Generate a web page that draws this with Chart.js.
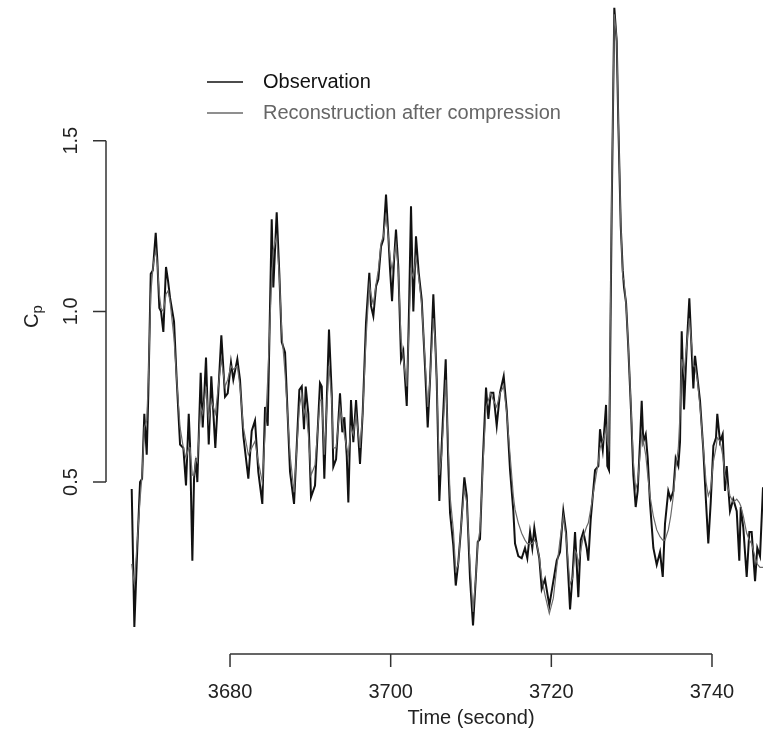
<!DOCTYPE html>
<html>
<head>
<meta charset="utf-8">
<script src="https://cdn.jsdelivr.net/npm/chart.js@4/dist/chart.umd.min.js"></script>
<style>
html,body{margin:0;padding:0;background:#fff;}
#c{display:block;}
</style>
</head>
<body>
<canvas id="c" width="763" height="739"></canvas>
<script>
// time stamps (seconds)
const times = [
3667.76,3668.09,3668.46,3668.80,3669.05,3669.33,3669.63,3669.83,3670.13,3670.38,
3670.46,3670.75,3670.95,3671.20,3671.41,3671.70,3672.03,3672.28,3672.53,3673.03,
3673.36,3673.78,3674.19,3674.52,3674.86,3675.02,3675.31,3675.52,3675.77,3675.93,
3676.35,3676.60,3677.01,3677.35,3677.67,3678.17,3678.92,3679.38,3679.71,3680.12,
3680.41,3680.91,3681.24,3681.66,3682.28,3682.70,3683.11,3683.52,3684.02,3684.36,
3684.69,3685.19,3685.39,3685.81,3686.14,3686.44,3686.85,3687.47,3687.97,3688.63,
3688.93,3689.21,3689.42,3689.75,3690.08,3690.58,3691.20,3691.42,3691.74,3692.32,
3692.66,3692.86,3693.20,3693.69,3693.98,3694.23,3694.53,3694.73,3695.06,3695.35,
3695.69,3696.18,3696.52,3696.93,3697.34,3697.55,3697.84,3698.18,3698.46,3698.80,
3699.08,3699.42,3699.71,3699.92,3700.17,3700.42,3700.66,3700.95,3701.29,3701.57,
3702.00,3702.28,3702.53,3702.82,3703.15,3703.49,3703.86,3704.27,3704.61,3704.90,
3705.31,3705.52,3705.73,3706.06,3706.35,3706.85,3707.18,3707.39,3707.80,3708.10,
3708.42,3708.72,3709.17,3709.47,3709.88,3710.25,3710.59,3710.84,3711.12,3711.46,
3711.87,3712.16,3712.45,3712.78,3713.20,3713.61,3714.07,3714.45,3714.86,3715.27,
3715.48,3715.89,3716.31,3716.72,3717.01,3717.35,3717.63,3717.88,3718.18,3718.50,
3718.80,3719.21,3719.75,3720.25,3720.67,3721.08,3721.49,3721.83,3722.33,3722.66,
3722.95,3723.16,3723.36,3723.66,3723.98,3724.40,3724.60,3724.90,3725.44,3725.85,
3726.06,3726.40,3726.56,3726.81,3726.97,3727.18,3727.52,3727.84,3728.14,3728.34,
3728.64,3728.89,3729.05,3729.30,3729.58,3729.92,3730.21,3730.50,3730.75,3731.04,
3731.25,3731.45,3731.75,3732.00,3732.28,3732.70,3733.12,3733.53,3733.87,3734.15,
3734.56,3734.86,3735.19,3735.48,3735.81,3736.02,3736.23,3736.52,3736.85,3737.18,
3737.48,3737.68,3737.89,3738.17,3738.51,3738.92,3739.26,3739.54,3739.84,3740.17,
3740.50,3740.66,3741.00,3741.33,3741.62,3741.83,3742.24,3742.65,3743.08,3743.40,
3743.58,3743.90,3744.32,3744.65,3744.94,3745.36,3745.64,3745.98,3746.35
];
// observed Cp
const observation = [
0.48,0.076,0.31,0.50,0.51,0.70,0.58,0.76,1.11,1.12,
1.14,1.23,1.15,1.01,1.00,0.94,1.13,1.09,1.04,0.97,
0.80,0.61,0.60,0.49,0.70,0.61,0.27,0.51,0.57,0.50,
0.82,0.66,0.865,0.61,0.81,0.60,0.93,0.75,0.76,0.85,
0.80,0.86,0.80,0.635,0.51,0.65,0.68,0.53,0.436,0.72,
0.665,1.27,1.07,1.29,1.11,0.91,0.88,0.53,0.436,0.77,
0.78,0.655,0.78,0.70,0.456,0.49,0.79,0.78,0.51,0.947,
0.76,0.545,0.567,0.76,0.646,0.69,0.577,0.44,0.74,0.617,
0.74,0.553,0.705,0.968,1.113,1.016,0.986,1.074,1.094,1.19,
1.21,1.342,1.22,1.123,1.03,1.15,1.24,1.13,0.86,0.884,
0.723,1.0,1.308,1.0,1.22,1.113,1.035,0.84,0.66,0.80,
1.05,0.93,0.80,0.445,0.606,0.86,0.548,0.41,0.314,0.197,
0.265,0.353,0.514,0.46,0.216,0.08,0.216,0.325,0.333,0.557,
0.777,0.685,0.762,0.762,0.665,0.762,0.81,0.71,0.535,0.415,
0.32,0.283,0.277,0.307,0.277,0.354,0.307,0.366,0.318,0.277,
0.187,0.216,0.139,0.21,0.27,0.295,0.415,0.354,0.127,0.234,
0.354,0.258,0.163,0.33,0.354,0.307,0.27,0.39,0.535,0.547,
0.655,0.594,0.642,0.726,0.547,0.535,1.31,1.889,1.79,1.55,
1.25,1.12,1.07,1.026,0.895,0.71,0.52,0.427,0.474,0.618,
0.738,0.618,0.64,0.57,0.44,0.307,0.258,0.295,0.222,0.378,
0.474,0.45,0.474,0.57,0.547,0.618,0.942,0.713,0.895,1.038,
0.88,0.774,0.87,0.81,0.738,0.594,0.44,0.32,0.44,0.606,
0.63,0.70,0.618,0.64,0.474,0.547,0.415,0.45,0.415,0.27,
0.427,0.366,0.222,0.354,0.354,0.21,0.307,0.283,0.485
];
// reconstructed Cp after compression
const reconstruction = [
0.26,0.20,0.33,0.45,0.52,0.66,0.68,0.80,1.05,1.12,
1.14,1.18,1.14,1.05,1.01,1.00,1.05,1.06,1.03,0.92,
0.80,0.66,0.60,0.57,0.60,0.60,0.52,0.52,0.57,0.56,
0.72,0.70,0.78,0.68,0.74,0.70,0.86,0.78,0.80,0.84,
0.83,0.84,0.78,0.66,0.58,0.60,0.62,0.56,0.50,0.64,
0.80,1.10,1.18,1.22,1.10,0.94,0.82,0.58,0.47,0.72,
0.76,0.70,0.72,0.64,0.52,0.55,0.74,0.74,0.58,0.84,
0.74,0.60,0.60,0.72,0.68,0.64,0.60,0.58,0.66,0.64,
0.70,0.60,0.70,0.92,1.08,1.05,1.02,1.08,1.12,1.20,
1.22,1.28,1.22,1.16,1.12,1.16,1.20,1.12,0.92,0.86,
0.78,0.95,1.12,1.10,1.16,1.10,1.02,0.86,0.72,0.80,
0.98,0.92,0.80,0.52,0.58,0.80,0.60,0.46,0.36,0.24,
0.26,0.36,0.48,0.44,0.26,0.12,0.22,0.32,0.36,0.54,
0.72,0.74,0.76,0.74,0.72,0.76,0.78,0.70,0.58,0.46,
0.42,0.38,0.35,0.33,0.32,0.32,0.32,0.33,0.32,0.28,
0.22,0.17,0.115,0.16,0.25,0.33,0.40,0.34,0.20,0.22,
0.30,0.29,0.26,0.30,0.34,0.37,0.38,0.42,0.50,0.56,
0.60,0.62,0.63,0.66,0.62,0.60,1.35,1.87,1.80,1.56,
1.26,1.10,1.09,1.02,0.90,0.72,0.56,0.48,0.50,0.58,
0.64,0.62,0.58,0.52,0.46,0.40,0.36,0.34,0.33,0.33,
0.36,0.40,0.46,0.54,0.60,0.70,0.86,0.82,0.90,0.98,
0.90,0.84,0.84,0.80,0.72,0.60,0.50,0.46,0.48,0.56,
0.60,0.63,0.62,0.58,0.52,0.50,0.46,0.44,0.45,0.44,
0.43,0.40,0.35,0.33,0.32,0.28,0.26,0.25,0.25
];
const xTicks = [3680, 3700, 3720, 3740];
const yTicks = [0.5, 1.0, 1.5];
const xTitle = 'Time (second)';
const yTitleMain = 'C';
const yTitleSub = 'p';
const legendLabels = ['Observation', 'Reconstruction after compression'];

const FONT = '20px "Liberation Sans", Arial, Helvetica, sans-serif';
const SUBFONT = '15px "Liberation Sans", Arial, Helvetica, sans-serif';
const OBS_COLOR = '#111111';
const REC_COLOR = '#6a6a6a';

const rAxes = {
  id: 'rAxes',
  afterDraw(chart) {
    const ctx = chart.ctx;
    const xs = chart.scales.x, ys = chart.scales.y;
    const ca = chart.chartArea;
    ctx.save();
    ctx.strokeStyle = '#333';
    ctx.fillStyle = '#222';
    ctx.lineWidth = 1.5;
    ctx.font = FONT;
    // x axis
    const xa = ca.bottom;
    const x0 = xs.getPixelForValue(xTicks[0]);
    const x1 = xs.getPixelForValue(xTicks[xTicks.length - 1]);
    ctx.beginPath();
    ctx.moveTo(x0, xa); ctx.lineTo(x1, xa);
    xTicks.forEach(t => {
      const px = xs.getPixelForValue(t);
      ctx.moveTo(px, xa); ctx.lineTo(px, xa + 13);
    });
    ctx.stroke();
    ctx.textAlign = 'center';
    ctx.textBaseline = 'middle';
    xTicks.forEach(t => {
      ctx.fillText(String(t), xs.getPixelForValue(t), xa + 38);
    });
    ctx.fillText(xTitle, xs.getPixelForValue(3710), xa + 64);
    // y axis
    const yx = ca.left;
    const y0 = ys.getPixelForValue(yTicks[0]);
    const y1 = ys.getPixelForValue(yTicks[yTicks.length - 1]);
    ctx.beginPath();
    ctx.moveTo(yx, y0); ctx.lineTo(yx, y1);
    yTicks.forEach(v => {
      const py = ys.getPixelForValue(v);
      ctx.moveTo(yx, py); ctx.lineTo(yx - 13, py);
    });
    ctx.stroke();
    yTicks.forEach(v => {
      const py = ys.getPixelForValue(v);
      ctx.save();
      ctx.translate(yx - 35, py);
      ctx.rotate(-Math.PI / 2);
      ctx.textAlign = 'center';
      ctx.textBaseline = 'middle';
      ctx.fillText(v.toFixed(1), 0, 0);
      ctx.restore();
    });
    // y title C_p
    ctx.save();
    ctx.translate(yx - 74, ys.getPixelForValue(0.985));
    ctx.rotate(-Math.PI / 2);
    ctx.textBaseline = 'middle';
    ctx.textAlign = 'left';
    const wC = ctx.measureText(yTitleMain).width;
    ctx.font = SUBFONT;
    const wp = ctx.measureText(yTitleSub).width;
    const tot = wC + wp;
    ctx.font = FONT;
    ctx.fillText(yTitleMain, -tot / 2, 0);
    ctx.font = SUBFONT;
    ctx.fillText(yTitleSub, -tot / 2 + wC, 6);
    ctx.restore();
    // legend
    const lx0 = 207, lx1 = 243, tx = 263;
    const ly = [82, 113];
    const lc = [OBS_COLOR, REC_COLOR];
    const tc = ['#111', '#666'];
    ctx.font = FONT;
    ctx.textAlign = 'left';
    ctx.textBaseline = 'middle';
    for (let i = 0; i < 2; i++) {
      ctx.beginPath();
      ctx.strokeStyle = lc[i];
      ctx.lineWidth = 1.5;
      ctx.moveTo(lx0, ly[i]); ctx.lineTo(lx1, ly[i]);
      ctx.stroke();
      ctx.fillStyle = tc[i];
      ctx.fillText(legendLabels[i], tx, ly[i]);
    }
    ctx.restore();
  }
};

new Chart(document.getElementById('c'), {
  type: 'line',
  data: {
    datasets: [
      {
        label: legendLabels[0],
        data: times.map((t, i) => ({x: t, y: observation[i]})),
        borderColor: OBS_COLOR,
        borderWidth: 2,
        pointRadius: 0,
        tension: 0,
        fill: false,
        order: 1
      },
      {
        label: legendLabels[1],
        data: times.map((t, i) => ({x: t, y: reconstruction[i]})),
        borderColor: REC_COLOR,
        borderWidth: 1.2,
        pointRadius: 0,
        tension: 0,
        fill: false,
        order: 0
      }
    ]
  },
  options: {
    responsive: false,
    animation: false,
    devicePixelRatio: 1,
    layout: {padding: {left: 106, right: 0, top: 0, bottom: 85}},
    plugins: {legend: {display: false}, tooltip: {enabled: false}},
    scales: {
      x: {type: 'linear', min: 3664.56, max: 3746.35, display: false},
      y: {type: 'linear', min: -0.0035, max: 1.912, display: false}
    },
    clip: false
  },
  plugins: [rAxes]
});
</script>
</body>
</html>
